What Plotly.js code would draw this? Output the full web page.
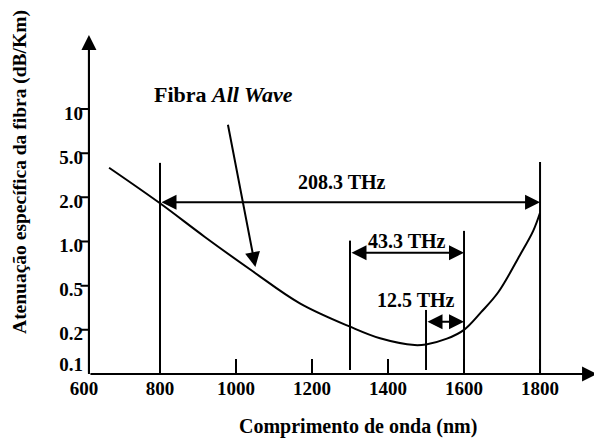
<!DOCTYPE html>
<html>
<head>
<meta charset="utf-8">
<script src="https://cdn.plot.ly/plotly-3.0.1.min.js"></script>
<style>html,body{margin:0;padding:0;background:#fff;}#chart{width:594px;height:441px;}</style>
</head>
<body>
<div id="chart"></div>
<script>
// ---- data ----
// wavelength (nm) of the attenuation curve
const curveNm = [666, 800, 918, 1045, 1168, 1300, 1379, 1470, 1500, 1555, 1600, 1645, 1690, 1747, 1782, 1800];
// attenuation, as position on the chart's 1-2-5 scale (0 = 0.1, 1 = 0.2, 2 = 0.5, 3 = 1.0, 4 = 2.0, 5 = 5.0, 6 = 10 dB/km)
const curveLevel = [4.67, 3.865, 3.103, 2.32, 1.60, 1.071, 0.808, 0.655, 0.67, 0.80, 1.0, 1.40, 1.85, 2.69, 3.24, 3.65];

const xTickVals = [600, 800, 1000, 1200, 1400, 1600, 1800];
const yTickVals = [0, 1, 2, 3, 4, 5, 6];
const yTickText = ['0.1', '0.2', '0.5', '1.0', '2.0', '5.0', '10'];

// window boundaries (nm)
const boundaryNm = [800, 1300, 1500, 1600, 1800];
// bandwidth windows
const bandLabels = ['208.3 THz', '43.3 THz', '12.5 THz'];
const bandFromNm = [800, 1300, 1500];
const bandToNm = [1800, 1600, 1600];

// ---- layout helpers (positions on the chart scale) ----
const boundaryTop = [4.78, 3.02, 1.45, 3.24, 4.80];
const boundaryBottom = [0, 0.09, 0.09, 0, 0];
const bandArrowLevel = [3.887, 2.746, 1.184];
const bandLabelPos = [[1279, 4.358], [1449, 3.016], [1473, 1.682]];

const FONT = '"Liberation Serif", "Times New Roman", Times, serif';
const X_MIN = 600, X_MAX = 1942, Y_MAX = 7.675;
const AXIS_X = 613;   // where the drawn vertical axis sits (as in the reference)

const traces = [
  {
    x: curveNm, y: curveLevel, type: 'scatter', mode: 'lines',
    line: {color: '#000', width: 2, shape: 'spline', smoothing: 1},
    hoverinfo: 'skip', showlegend: false
  },
  {x: [null], y: [null], yaxis: 'y2', type: 'scatter', mode: 'lines', showlegend: false, hoverinfo: 'skip'},
  {x: [null], y: [null], xaxis: 'x2', type: 'scatter', mode: 'lines', showlegend: false, hoverinfo: 'skip'}
];

const shapes = boundaryNm.map((nm, i) => ({
  type: 'line', xref: 'x', yref: 'y',
  x0: nm, x1: nm, y0: boundaryBottom[i], y1: boundaryTop[i],
  line: {color: '#000', width: 2}
}));
// vertical axis line (inside the plot area, like the window boundaries)
shapes.push({
  type: 'line', xref: 'x', yref: 'y',
  x0: AXIS_X, x1: AXIS_X, y0: 0, y1: Y_MAX - 0.3,
  line: {color: '#000', width: 2}
});

const arrowBase = {
  text: '', showarrow: true, xref: 'x', yref: 'y', axref: 'x', ayref: 'y',
  arrowhead: 2, arrowsize: 1.5, arrowwidth: 2, arrowcolor: '#000',
  standoff: 0, startstandoff: 0
};

const annotations = [];
// axis titles
annotations.push({
  text: '<b>Comprimento de onda (nm)</b>', showarrow: false, xref: 'paper', yref: 'paper',
  x: 0.537, y: -0.156, xanchor: 'center', yanchor: 'middle',
  font: {family: FONT, size: 20, color: '#000'}
});
annotations.push({
  text: '<b>Atenuação específica da fibra (dB/Km)</b>', showarrow: false, xref: 'paper', yref: 'paper',
  x: -0.1255, y: 0.596, xanchor: 'center', yanchor: 'middle', textangle: -90,
  font: {family: FONT, size: 19.5, color: '#000'}
});
// bandwidth arrows and labels
bandLabels.forEach((lab, i) => {
  annotations.push(Object.assign({}, arrowBase, {
    x: bandToNm[i], y: bandArrowLevel[i], ax: bandFromNm[i], ay: bandArrowLevel[i],
    arrowside: 'end+start', startarrowhead: 2, startarrowsize: 1.5
  }));
  annotations.push({
    text: '<b>' + lab + '</b>', showarrow: false, xref: 'x', yref: 'y',
    x: bandLabelPos[i][0], y: bandLabelPos[i][1], xanchor: 'center', yanchor: 'middle',
    font: {family: FONT, size: 20, color: '#000'}
  });
});
// fibre label with pointer
annotations.push({
  text: '<b>Fibra <i>All Wave</i></b>', showarrow: false, xref: 'x', yref: 'y',
  x: 967, y: 6.333, xanchor: 'center', yanchor: 'middle',
  font: {family: FONT, size: 22, color: '#000'}
});
annotations.push(Object.assign({}, arrowBase, {x: 1051, y: 2.42, ax: 978, ay: 5.676}));
// horizontal axis line with arrow head
annotations.push(Object.assign({}, arrowBase, {x: 1950, y: 0, ax: AXIS_X, ay: 0}));
// vertical axis arrow head, and its tick marks to the left
annotations.push(Object.assign({}, arrowBase, {x: AXIS_X, y: Y_MAX, ax: AXIS_X, ay: 0}));
yTickVals.slice(1).forEach(v => annotations.push({
  text: '', showarrow: true, xref: 'x', yref: 'y', x: AXIS_X, y: v, ax: -10, ay: 0,
  arrowhead: 0, arrowwidth: 2, arrowcolor: '#000', standoff: 0, startstandoff: 0
}));

const tickFont = {family: FONT, size: 19, color: '#000', weight: 'bold'};

const layout = {
  width: 594, height: 441,
  margin: {l: 84, r: 0, t: 35, b: 67},
  paper_bgcolor: '#fff',
  showlegend: false,
  xaxis: {
    range: [X_MIN, X_MAX], fixedrange: true,
    showgrid: false, zeroline: false, showline: false,
    ticks: '', tickvals: xTickVals, ticktext: xTickVals.map(String),
    tickfont: tickFont, ticklabelstandoff: 1
  },
  xaxis2: {
    overlaying: 'x', anchor: 'y', side: 'bottom',
    range: [X_MIN, X_MAX], fixedrange: true,
    showgrid: false, zeroline: false, showline: false, showticklabels: false,
    ticks: 'inside', ticklen: 15, tickwidth: 2, tickcolor: '#000',
    tickvals: xTickVals.slice(1)
  },
  yaxis: {
    range: [0, Y_MAX], fixedrange: true, anchor: 'x', side: 'left',
    showgrid: false, zeroline: false, showline: false,
    ticks: '',
    tickvals: yTickVals.slice(1), ticktext: yTickText.slice(1),
    tickfont: tickFont, ticklabelshift: 4, ticklabelstandoff: 0
  },
  yaxis2: {
    overlaying: 'y', anchor: 'x', side: 'left',
    range: [0, Y_MAX], fixedrange: true,
    showgrid: false, zeroline: false, showline: false,
    ticks: '', tickvals: [yTickVals[0]], ticktext: [yTickText[0]],
    tickfont: tickFont, ticklabelshift: -10, ticklabelstandoff: 0
  },
  shapes: shapes,
  annotations: annotations
};

Plotly.newPlot('chart', traces, layout, {displayModeBar: false, staticPlot: true});
</script>
</body>
</html>
